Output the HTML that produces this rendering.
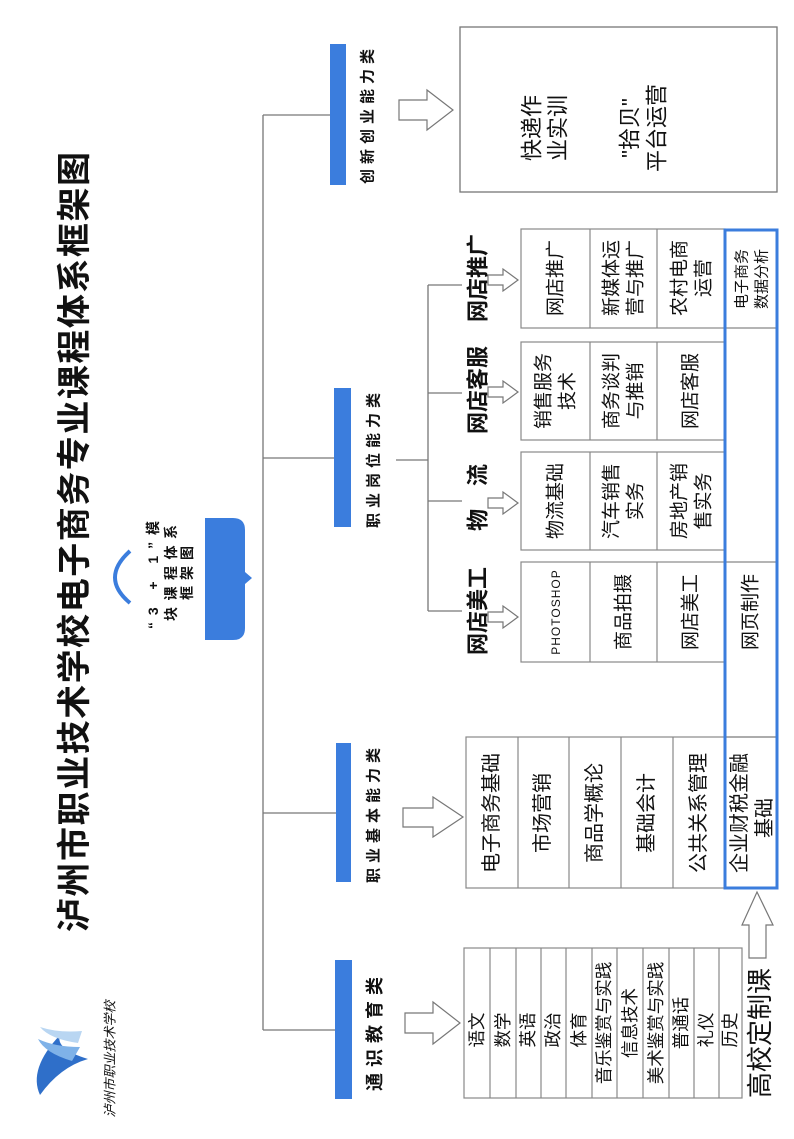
<!DOCTYPE html>
<html><head><meta charset="utf-8">
<style>
html,body{margin:0;padding:0;background:#fff;}
body{width:794px;height:1139px;overflow:hidden;position:relative;}
#w{position:absolute;left:0;top:0;width:1139px;height:794px;transform-origin:0 0;transform:translate(0,1139px) rotate(-90deg);}
svg text{font-family:"Liberation Sans","Noto Sans CJK SC",sans-serif;fill:#111;}
</style></head><body>
<div id="w">
<svg width="1139" height="794" viewBox="0 0 1139 794" xmlns="http://www.w3.org/2000/svg">
<g text-anchor="middle" dominant-baseline="central">
<text x="597" y="75" font-size="34" font-weight="bold" textLength="780" lengthAdjust="spacing">泸州市职业技术学校电子商务专业课程体系框架图</text>

<path d="M44 40 Q70 28 104 60 Q90 55 80 88 Q72 60 44 40Z" fill="#2f6fc9"/>
<path d="M78 72 Q86 45 100 38 Q92 55 92 80Z" fill="#7fb2e8"/>
<path d="M96 78 Q100 50 112 40 Q106 58 108 82Z" fill="#b9d6f2"/>
<text x="80" y="110" font-size="13" font-style="italic" fill="#223">泸州市职业技术学校</text>

<g stroke="#777" stroke-width="1.3" fill="none">
<line x1="109" y1="263" x2="1024" y2="263"/>
<line x1="1024" y1="263" x2="1024" y2="331"/>
<line x1="681" y1="263" x2="681" y2="335"/>
<line x1="326" y1="263" x2="326" y2="336"/>
<line x1="109" y1="263" x2="109" y2="335"/>
<line x1="679" y1="396" x2="679" y2="428"/>
<line x1="528" y1="428" x2="854" y2="428"/>
<line x1="854" y1="428" x2="854" y2="462"/>
<line x1="746" y1="428" x2="746" y2="462"/>
<line x1="638" y1="428" x2="638" y2="462"/>
<line x1="528" y1="428" x2="528" y2="462"/>
</g>

<path d="M499 205 H621 V233 Q621 245 609 245 H567 L561 252 L555 245 H511 Q499 245 499 233Z" fill="#3b7ddd"/>
<path d="M536 130 Q561 100 588 130" stroke="#3b7ddd" stroke-width="4" fill="none"/>
<text x="564" y="153" font-size="14" font-weight="bold" textLength="108" lengthAdjust="spacing">“3 + 1”模</text>
<text x="566" y="171" font-size="14" font-weight="bold" textLength="96" lengthAdjust="spacing">块课程体系</text>
<text x="566" y="187" font-size="14" font-weight="bold" textLength="54" lengthAdjust="spacing">框架图</text>

<g fill="#3b7ddd">
<rect x="954" y="330" width="141" height="16"/>
<rect x="612" y="334" width="139" height="17"/>
<rect x="257" y="336" width="139" height="15"/>
<rect x="40" y="335" width="139" height="17"/>
</g>
<text x="1025" y="368" font-size="15" font-weight="bold" letter-spacing="5">创新创业能力类</text>
<text x="681" y="374" font-size="15" font-weight="bold" letter-spacing="5">职业岗位能力类</text>
<text x="326" y="374" font-size="15" font-weight="bold" letter-spacing="5">职业基本能力类</text>
<text x="108" y="375" font-size="18" font-weight="bold" letter-spacing="6">通识教育类</text>

<g fill="#fff" stroke="#777" stroke-width="1.2">
<polygon points="1019,399 1039,399 1039,427 1049,427 1029,453 1009,427 1019,427"/>
<polygon points="312,403 331,403 331,433 342,433 322,463 302,433 312,433"/>
<polygon points="106,405 126,405 126,433 137,433 116,460 95,433 106,433"/>
<polygon points="854,488 864,488 864,503 870,503 859,518 848,503 854,503"/>
<polygon points="742,488 752,488 752,503 758,503 747,518 736,503 742,503"/>
<polygon points="631,488 641,488 641,503 647,503 636,518 625,503 631,503"/>
<polygon points="517,488 527,488 527,503 533,503 522,518 511,503 517,503"/>
<polygon points="181,749 214,749 214,742 247,757 214,773 214,766 181,766"/>
</g>

<rect x="947" y="460" width="165" height="317" fill="none" stroke="#777" stroke-width="1.3"/>
<g font-size="22">
<text x="1011" y="532">快递作</text>
<text x="1011" y="558">业实训</text>
<text x="1011" y="630">"拾贝"</text>
<text x="1011" y="657">平台运营</text>
</g>

<g font-size="22" font-weight="bold">
<text x="861" y="478">网店推广</text>
<text x="749" y="478">网店客服</text>
<text x="619" y="478">物</text>
<text x="664" y="478">流</text>
<text x="528" y="478">网店美工</text>
</g>

<g fill="none" stroke="#888" stroke-width="1.2">
<rect x="811" y="521" width="99" height="204"/>
<line x1="811" y1="590" x2="910" y2="590"/><line x1="811" y1="657" x2="910" y2="657"/>
<rect x="699" y="521" width="98" height="204"/>
<line x1="699" y1="590" x2="797" y2="590"/><line x1="699" y1="657" x2="797" y2="657"/>
<rect x="589" y="521" width="98" height="204"/>
<line x1="589" y1="590" x2="687" y2="590"/><line x1="589" y1="657" x2="687" y2="657"/>
<rect x="477" y="521" width="100" height="204"/>
<line x1="477" y1="590" x2="577" y2="590"/><line x1="477" y1="657" x2="577" y2="657"/>
<rect x="251" y="466" width="151" height="311"/>
<line x1="251" y1="518" x2="402" y2="518"/><line x1="251" y1="569" x2="402" y2="569"/>
<line x1="251" y1="621" x2="402" y2="621"/><line x1="251" y1="673" x2="402" y2="673"/>
<line x1="251" y1="725" x2="402" y2="725"/>
<rect x="41" y="464" width="150" height="278"/>
<line x1="41" y1="490" x2="191" y2="490"/><line x1="41" y1="516" x2="191" y2="516"/>
<line x1="41" y1="541" x2="191" y2="541"/><line x1="41" y1="566" x2="191" y2="566"/>
<line x1="41" y1="592" x2="191" y2="592"/><line x1="41" y1="617" x2="191" y2="617"/>
<line x1="41" y1="643" x2="191" y2="643"/><line x1="41" y1="669" x2="191" y2="669"/>
<line x1="41" y1="694" x2="191" y2="694"/><line x1="41" y1="719" x2="191" y2="719"/>
<line x1="811" y1="725" x2="811" y2="777"/><line x1="577" y1="725" x2="577" y2="777"/>
<line x1="402" y1="725" x2="402" y2="777"/>
</g>
<rect x="251" y="725" width="658" height="52" fill="none" stroke="#3b7ddd" stroke-width="3"/>

<g font-size="19">
<text x="861" y="556">网店推广</text>
<text x="861" y="612">新媒体运</text><text x="861" y="636">营与推广</text>
<text x="861" y="680">农村电商</text><text x="861" y="704">运营</text>
<text x="748" y="544">销售服务</text><text x="748" y="568">技术</text>
<text x="748" y="612">商务谈判</text><text x="748" y="636">与推销</text>
<text x="748" y="691">网店客服</text>
<text x="638" y="556">物流基础</text>
<text x="638" y="612">汽车销售</text><text x="638" y="636">实务</text>
<text x="638" y="680">房地产销</text><text x="638" y="704">售实务</text>
<text x="527" y="556" font-size="12" letter-spacing="1">PHOTOSHOP</text>
<text x="527" y="624">商品拍摄</text>
<text x="527" y="691">网店美工</text>
<text x="527" y="751">网页制作</text>
</g>
<text x="860" y="742" font-size="15">电子商务</text>
<text x="860" y="762" font-size="15">数据分析</text>

<g font-size="20">
<text x="326" y="492">电子商务基础</text>
<text x="326" y="543">市场营销</text>
<text x="326" y="595">商品学概论</text>
<text x="326" y="647">基础会计</text>
<text x="326" y="699">公共关系管理</text>
<text x="326" y="740">企业财税金融</text>
<text x="321" y="765">基础</text>
</g>

<g font-size="17.5">
<text x="109" y="477">语文</text>
<text x="109" y="503">数学</text>
<text x="109" y="528">英语</text>
<text x="109" y="553">政治</text>
<text x="109" y="579">体育</text>
<text x="116" y="604">音乐鉴赏与实践</text>
<text x="116" y="630">信息技术</text>
<text x="116" y="656">美术鉴赏与实践</text>
<text x="116" y="681">普通话</text>
<text x="109" y="706">礼仪</text>
<text x="109" y="730">历史</text>
</g>
<text x="106" y="760" font-size="26">高校定制课</text>
</g>
</svg>
</div>
</body></html>
